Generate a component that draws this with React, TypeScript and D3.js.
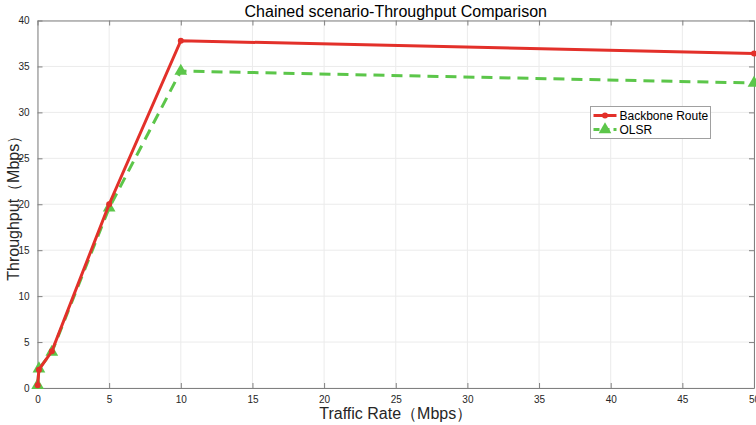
import React, { useRef, useEffect } from "react";
import * as d3 from "d3";

const rates = [0.01, 0.1, 1, 5, 10, 50];
const backbone = [0.3, 2.0, 4.0, 20.0, 37.8, 36.4];
const olsr = [0.3, 2.1, 3.9, 19.6, 34.5, 33.2];
const xTicks = [0, 5, 10, 15, 20, 25, 30, 35, 40, 45, 50];
const yTicks = [0, 5, 10, 15, 20, 25, 30, 35, 40];
const seriesNames = ["Backbone Route", "OLSR"];

function App() {
  const svgRef = useRef<SVGSVGElement>(null);

  useEffect(() => {
    const w = 756;
    const h = 425;
    const m = { top: 20.5, right: 2, bottom: 37, left: 37.5 };
    const svg = d3.select(svgRef.current);
    svg.selectAll("*").remove();
    svg.attr("width", w).attr("height", h).style("display", "block");

    const font = "'Liberation Sans', Arial, sans-serif";
    const x = d3.scaleLinear().domain([0, 50]).range([m.left, w - m.right]);
    const y = d3.scaleLinear().domain([0, 40]).range([h - m.bottom, m.top]);

    // grid
    const grid = svg.append("g").attr("stroke", "#ebebeb").attr("stroke-width", 1);
    xTicks.forEach((t) => {
      grid.append("line").attr("x1", x(t)).attr("x2", x(t)).attr("y1", y(0)).attr("y2", y(40));
    });
    yTicks.forEach((t) => {
      grid.append("line").attr("x1", x(0)).attr("x2", x(50)).attr("y1", y(t)).attr("y2", y(t));
    });

    // axes (MATLAB style: inward ticks on all four sides)
    const axisColor = "#808080";
    const xb = svg
      .append("g")
      .attr("transform", `translate(0,${y(0)})`)
      .call(d3.axisBottom(x).tickValues(xTicks).tickSizeInner(-5).tickSizeOuter(0).tickPadding(8));
    const xt = svg
      .append("g")
      .attr("transform", `translate(0,${y(40)})`)
      .call(d3.axisTop(x).tickValues(xTicks).tickSizeInner(-5).tickSizeOuter(0).tickFormat(() => ""));
    const yl = svg
      .append("g")
      .attr("transform", `translate(${x(0)},0)`)
      .call(d3.axisLeft(y).tickValues(yTicks).tickSizeInner(-5).tickSizeOuter(0).tickPadding(8));
    const yr = svg
      .append("g")
      .attr("transform", `translate(${x(50)},0)`)
      .call(d3.axisRight(y).tickValues(yTicks).tickSizeInner(-5).tickSizeOuter(0).tickFormat(() => ""));
    [xb, xt, yl, yr].forEach((g) => {
      g.selectAll("path, line").attr("stroke", axisColor);
      g.selectAll("text").attr("fill", "#262626").style("font-family", font).style("font-size", "10px");
    });

    const line = d3
      .line<number>()
      .x((d, i) => x(rates[i]))
      .y((d) => y(d));

    // OLSR
    svg
      .append("path")
      .datum(olsr)
      .attr("fill", "none")
      .attr("stroke", "#5cc64a")
      .attr("stroke-width", 3)
      .attr("stroke-dasharray", "11,7")
      .attr("d", line);
    const tri = d3.symbol().type(d3.symbolTriangle).size(70);
    svg
      .append("g")
      .selectAll("path")
      .data(olsr)
      .join("path")
      .attr("d", tri)
      .attr("transform", (d, i) => `translate(${x(rates[i])},${y(d)})`)
      .attr("fill", "#5cc64a");

    // Backbone
    svg
      .append("path")
      .datum(backbone)
      .attr("fill", "none")
      .attr("stroke", "#e3302a")
      .attr("stroke-width", 3)
      .attr("d", line);
    svg
      .append("g")
      .selectAll("circle")
      .data(backbone)
      .join("circle")
      .attr("cx", (d, i) => x(rates[i]))
      .attr("cy", (d) => y(d))
      .attr("r", 3)
      .attr("fill", "#e3302a");

    // title and labels
    svg
      .append("text")
      .attr("x", (x(0) + x(50)) / 2)
      .attr("y", 17)
      .attr("text-anchor", "middle")
      .style("font-family", font)
      .style("font-size", "16px")
      .attr("fill", "#000")
      .text("Chained scenario-Throughput Comparison");
    svg
      .append("text")
      .attr("x", (x(0) + x(50)) / 2)
      .attr("y", 419)
      .attr("text-anchor", "middle")
      .style("font-family", font)
      .style("font-size", "16px")
      .attr("fill", "#262626")
      .text("Traffic Rate（Mbps）");
    svg
      .append("text")
      .attr("transform", `translate(19,${(y(0) + y(40)) / 2}) rotate(-90)`)
      .attr("text-anchor", "middle")
      .style("font-family", font)
      .style("font-size", "16px")
      .attr("fill", "#262626")
      .text("Throughput（Mbps）");

    // legend
    const lg = svg.append("g").attr("transform", "translate(590.5,106.5)");
    lg.append("rect")
      .attr("width", 120)
      .attr("height", 32)
      .attr("fill", "#fff")
      .attr("stroke", "#a0a0a0")
      .attr("stroke-width", 1);
    const colors = ["#e3302a", "#5cc64a"];
    seriesNames.forEach((name, i) => {
      const cy = 9 + i * 14;
      lg.append("line")
        .attr("x1", 3)
        .attr("x2", 26)
        .attr("y1", cy)
        .attr("y2", cy)
        .attr("stroke", colors[i])
        .attr("stroke-width", 3)
        .attr("stroke-dasharray", i === 1 ? "6,4" : null);
      if (i === 0) {
        lg.append("circle").attr("cx", 14.5).attr("cy", cy).attr("r", 3).attr("fill", colors[i]);
      } else {
        lg.append("path")
          .attr("d", tri)
          .attr("transform", `translate(14.5,${cy})`)
          .attr("fill", colors[i]);
      }
      lg.append("text")
        .attr("x", 29)
        .attr("y", cy + 4.5)
        .style("font-family", font)
        .style("font-size", "12px")
        .attr("fill", "#000")
        .text(name);
    });
  }, []);

  return <svg ref={svgRef} style={{ position: "absolute", left: 0, top: 0 }}></svg>;
}

export default App;
